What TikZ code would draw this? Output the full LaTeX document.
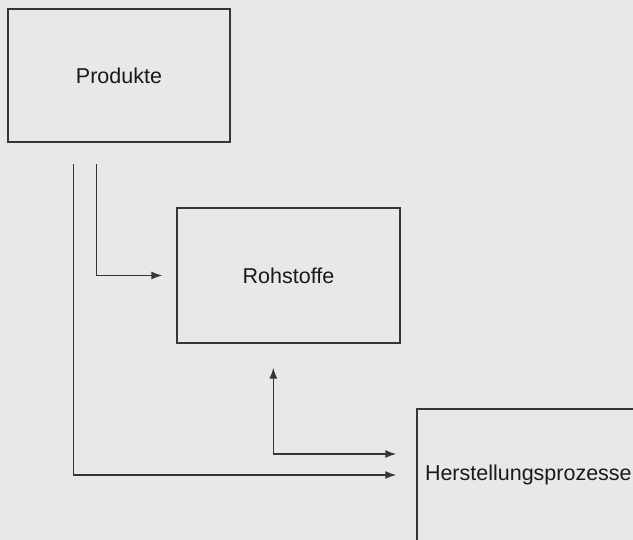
\documentclass[tikz,border=0pt]{standalone}
\usepackage{fontspec}
\setmainfont{Liberation Sans}
\usetikzlibrary{arrows.meta,positioning}
\definecolor{bgc}{HTML}{E8E8E8}
\definecolor{ln}{HTML}{363636}
\definecolor{tx}{HTML}{1A1A1A}
\tikzset{
  box/.style={draw=ln, line width=1.4pt, rectangle, inner sep=0pt, text=tx,
    font=\fontsize{21.5}{26}\selectfont},
  conn/.style={draw=ln, line width=1.4pt},
  tip/.style={-{Latex[length=11pt,width=8pt]}},
}
\begin{document}
\begin{tikzpicture}[x=1pt,y=-1pt]
\useasboundingbox (0,0) rectangle (633,540);
\fill[bgc] (0,0) rectangle (633,540);
\node[box, minimum width=222pt, minimum height=133pt] (prod) at (119,75.5) {Produkte};
\node[box, minimum width=223pt, minimum height=135pt] (roh) at (288.5,275.5) {Rohstoffe};
\node[box, minimum width=243pt, minimum height=132pt, text width=227pt, align=left] (herst) at (538.5,475) {Herstellungsprozesse};
\draw[conn, tip, shorten <=21pt, shorten >=14pt] ([xshift=89pt]prod.south west) |- (roh.west);
\draw[conn, tip, shorten <=21pt, shorten >=20pt] ([xshift=66pt]prod.south west) |- (herst.west);
\draw[conn, {Latex[length=11pt,width=8pt]}-{Latex[length=11pt,width=8pt]}, shorten <=24pt, shorten >=20pt] ([xshift=97pt]roh.south west) |- ([yshift=21pt]herst.west);
\end{tikzpicture}
\end{document}
